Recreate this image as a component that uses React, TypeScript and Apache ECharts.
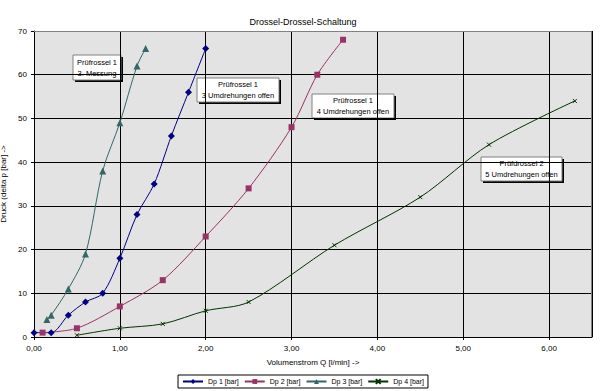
import React, { useEffect, useRef } from "react";
import * as echarts from "echarts";

const TITLE = "Drossel-Drossel-Schaltung";
const X_NAME = "Volumenstrom Q [l/min] ->";
const Y_NAME = "Druck (delta p [bar] ->";

const dp1: [number, number][] = [
  [0, 1], [0.2, 1], [0.4, 5], [0.6, 8], [0.8, 10], [1.0, 18], [1.2, 28],
  [1.4, 35], [1.6, 46], [1.8, 56], [2.0, 66],
];
const dp2: [number, number][] = [
  [0.1, 1], [0.5, 2], [1.0, 7], [1.5, 13], [2.0, 23], [2.5, 34], [3.0, 48],
  [3.3, 60], [3.6, 68],
];
const dp3: [number, number][] = [
  [0.15, 4], [0.2, 5], [0.4, 11], [0.6, 19], [0.8, 38], [1.0, 49], [1.2, 62],
  [1.3, 66],
];
const dp4: [number, number][] = [
  [0.5, 0.4], [1.0, 2], [1.5, 3], [2.0, 6], [2.5, 8], [3.5, 21], [4.5, 32],
  [5.3, 44], [6.3, 54],
];

const seriesNames = ["Dp 1 [bar]", "Dp 2 [bar]", "Dp 3 [bar]", "Dp 4 [bar]"];
const seriesColors = ["#000080", "#993366", "#336666", "#003300"];

const notes = [
  { lines: ["Prüfrossel 1", "3. Messung"] },
  { lines: ["Prüfrossel 1", "3 Umdrehungen offen"] },
  { lines: ["Prüfrossel 1", "4 Umdrehungen offen"] },
  { lines: ["Prüfdrossel 2", "5 Umdrehungen offen"] },
];
const noteBoxes = [
  { x: 73, y: 55, w: 48, h: 25 },
  { x: 197, y: 78, w: 82, h: 24 },
  { x: 312, y: 94, w: 82, h: 24 },
  { x: 481, y: 157, w: 81, h: 24 },
];

const FONT = "Liberation Sans, Arial, sans-serif";

export default function App() {
  const ref = useRef<HTMLDivElement>(null);
  useEffect(() => {
    if (!ref.current) return;
    const chart = echarts.init(ref.current, undefined, { renderer: "svg" });
    const gridLeft = 34, gridTop = 31, gridRight = 14, gridBottom = 54;
    const W = 606, H = 391;
    const crossPath = "path://M0,0L10,10M0,10L10,0";
    const symbols = ["diamond", "rect", "triangle", crossPath];
    const sizes = [7, 6, 7, 4];
    const datas = [dp1, dp2, dp3, dp4];

    const graphics: any[] = [];
    noteBoxes.forEach((b, i) => {
      graphics.push({
        type: "group",
        x: b.x,
        y: b.y,
        z: 100,
        children: [
          { type: "rect", shape: { x: 2, y: 2, width: b.w, height: b.h }, style: { fill: "#000" } },
          { type: "rect", shape: { x: 0, y: 0, width: b.w, height: b.h }, style: { fill: "#fff", stroke: "#808080", lineWidth: 1 } },
          {
            type: "text",
            x: b.w / 2,
            y: b.h / 2,
            style: {
              text: notes[i].lines.join("\n"),
              align: "center",
              verticalAlign: "middle",
              lineHeight: 11,
              font: `7.5px ${FONT}`,
              fill: "#000",
            },
          },
        ],
      });
    });
    graphics.push({
      type: "polyline",
      z: 90,
      shape: {
        points: [
          [gridLeft, gridTop + 0.5],
          [W - gridRight - 0.5, gridTop + 0.5],
          [W - gridRight - 0.5, H - gridBottom],
        ],
      },
      style: { stroke: "#808080", lineWidth: 1, fill: "none" },
    });

    chart.setOption({
      animation: false,
      backgroundColor: "#fff",
      title: {
        text: TITLE,
        left: "center",
        top: 12,
        textStyle: { fontSize: 9, fontWeight: "normal", color: "#000", fontFamily: FONT },
      },
      grid: {
        left: gridLeft,
        right: gridRight,
        top: gridTop,
        bottom: gridBottom,
        containLabel: false,
        outerBoundsMode: "none",
        show: true,
        backgroundColor: "#E3E3E3",
        borderColor: "#808080",
        borderWidth: 0,
      },
      legend: {
        data: seriesNames,
        bottom: 3,
        left: "center",
        borderColor: "#000",
        borderWidth: 1,
        padding: [3, 4],
        itemGap: 5,
        itemWidth: 20,
        itemHeight: 6,
        textStyle: { fontSize: 7, color: "#000", fontFamily: FONT },
      },
      xAxis: {
        type: "value",
        min: 0,
        max: 6.5,
        interval: 1,
        name: X_NAME,
        nameLocation: "middle",
        nameGap: 21,
        nameTextStyle: { fontSize: 8, color: "#000", fontFamily: FONT },
        axisLine: { lineStyle: { color: "#000", width: 1 } },
        axisTick: { show: true, length: 3, lineStyle: { color: "#000" } },
        axisLabel: {
          showMaxLabel: false,
          margin: 7,
          fontSize: 8,
          color: "#000",
          fontFamily: FONT,
          formatter: (v: number) => v.toFixed(2).replace(".", ","),
        },
        splitLine: { show: true, lineStyle: { color: "#000", width: 1 } },
      },
      yAxis: {
        type: "value",
        min: 0,
        max: 70,
        interval: 10,
        name: Y_NAME,
        nameLocation: "middle",
        nameGap: 24,
        nameTextStyle: { fontSize: 8, color: "#000", fontFamily: FONT },
        axisLine: { show: true, lineStyle: { color: "#000", width: 1 } },
        axisTick: { show: true, length: 3, lineStyle: { color: "#000" } },
        axisLabel: { margin: 7, fontSize: 8, color: "#000", fontFamily: FONT },
        splitLine: { show: true, lineStyle: { color: "#000", width: 1 } },
      },
      series: datas.map((d, i) => ({
        name: seriesNames[i],
        type: "line",
        data: d,
        smooth: 0.3,
        symbol: symbols[i],
        symbolSize: sizes[i],
        showSymbol: true,
        lineStyle: { color: seriesColors[i], width: 1 },
        itemStyle: {
          color: seriesColors[i],
          borderColor: seriesColors[i],
          borderWidth: i === 3 ? 1 : 0,
        },
        z: 5,
      })),
      graphic: graphics,
    });
    return () => chart.dispose();
  }, []);
  return <div ref={ref} style={{ width: 606, height: 391, position: "absolute", left: 0, top: 0 }} />;
}
